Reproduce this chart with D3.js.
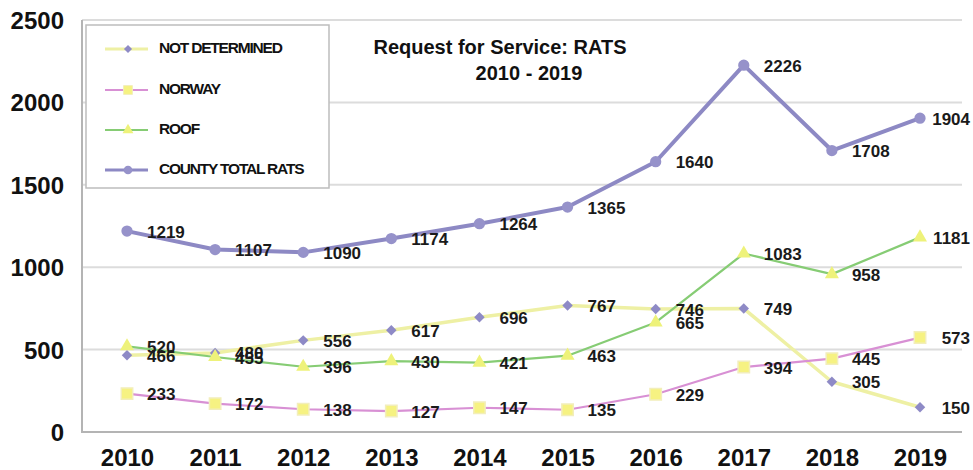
<!DOCTYPE html>
<html>
<head>
<meta charset="utf-8">
<script src="https://cdn.jsdelivr.net/npm/d3@7"></script>
<style>
  html, body { margin: 0; padding: 0; background: #fff; }
  svg { display: block; font-family: "Liberation Sans", Arial, sans-serif; }
</style>
</head>
<body>
<svg id="chart" width="973" height="470"></svg>
<script>
// Request for Service: RATS, 2010 - 2019
const years = ["2010", "2011", "2012", "2013", "2014", "2015", "2016", "2017", "2018", "2019"];
const notDetermined = [466, 480, 556, 617, 696, 767, 746, 749, 305, 150];
const norway = [233, 172, 138, 127, 147, 135, 229, 394, 445, 573];
const roof = [520, 455, 396, 430, 421, 463, 665, 1083, 958, 1181];
const countyTotal = [1219, 1107, 1090, 1174, 1264, 1365, 1640, 2226, 1708, 1904];
const yTicks = [0, 500, 1000, 1500, 2000, 2500];
const seriesNames = ["NOT DETERMINED", "NORWAY", "ROOF", "COUNTY TOTAL RATS"];

const W = 973, H = 470;
const plot = { left: 82, right: 962, top: 20, bottom: 432 };

const svg = d3.select("#chart");

const x = d3.scalePoint().domain(years).range([127, 920]);
const y = d3.scaleLinear().domain([0, 2500]).range([plot.bottom, plot.top]);

// Diamonds are drawn as squares turned by 45 degrees
const series = [
  { name: seriesNames[0], values: notDetermined, line: "#eef0a4", lineWidth: 3.5, marker: "square", rotate: 45, fill: "#8e8ac6", stroke: "none", size: 55 },
  { name: seriesNames[1], values: norway, line: "#d890d4", lineWidth: 2.2, marker: "square", rotate: 0, fill: "#f6f282", stroke: "#f2eebb", size: 130 },
  { name: seriesNames[2], values: roof, line: "#86cc74", lineWidth: 2.2, marker: "triangle", rotate: 0, fill: "#eef27a", stroke: "none", size: 85 },
  { name: seriesNames[3], values: countyTotal, line: "#8d89c4", lineWidth: 4, marker: "circle", rotate: 0, fill: "#9692ca", stroke: "none", size: 100 }
];

const symbolType = {
  square: d3.symbolSquare,
  triangle: d3.symbolTriangle,
  circle: d3.symbolCircle
};

// Gridlines
svg.append("g")
  .selectAll("line")
  .data(yTicks.filter(d => d > 0))
  .join("line")
  .attr("x1", plot.left)
  .attr("x2", plot.right)
  .attr("y1", d => y(d))
  .attr("y2", d => y(d))
  .attr("stroke", "#dcdcdc")
  .attr("stroke-width", 2);

// Plot frame (left and bottom)
svg.append("path")
  .attr("d", `M${plot.left},${plot.top}V${plot.bottom}H${plot.right}`)
  .attr("fill", "none")
  .attr("stroke", "#b4b4b4")
  .attr("stroke-width", 2);

// Y axis
const yAxis = d3.axisLeft(y).tickValues(yTicks).tickFormat(d3.format("d")).tickSize(0).tickPadding(0);
const yG = svg.append("g").attr("transform", "translate(64,0)").call(yAxis);
yG.select(".domain").remove();
yG.selectAll("text")
  .attr("font-size", 24)
  .attr("font-weight", "bold")
  .attr("fill", "#111")
  .attr("dy", "0.35em")
  .style("font-family", "'Liberation Sans', Arial, sans-serif");

// X axis
const xAxis = d3.axisBottom(x).tickSize(0).tickPadding(0);
const xG = svg.append("g").attr("transform", "translate(0,449)").call(xAxis);
xG.select(".domain").remove();
xG.selectAll("text")
  .attr("font-size", 24)
  .attr("font-weight", "bold")
  .attr("fill", "#111")
  .attr("dy", "0.72em")
  .style("font-family", "'Liberation Sans', Arial, sans-serif");

// Series lines and markers
const lineGen = d3.line()
  .x((d, i) => x(years[i]))
  .y(d => y(d));

series.forEach(s => {
  svg.append("path")
    .datum(s.values)
    .attr("d", lineGen)
    .attr("fill", "none")
    .attr("stroke", s.line)
    .attr("stroke-width", s.lineWidth)
    .attr("stroke-linejoin", "round");
});

series.forEach(s => {
  svg.append("g")
    .selectAll("path")
    .data(s.values)
    .join("path")
    .attr("transform", (d, i) => `translate(${x(years[i])},${y(d)}) rotate(${s.rotate})`)
    .attr("d", d3.symbol().type(symbolType[s.marker]).size(s.size))
    .attr("fill", s.fill)
    .attr("stroke", s.stroke)
    .attr("stroke-width", 1.5);
});

// Value labels
series.forEach(s => {
  svg.append("g")
    .selectAll("text")
    .data(s.values)
    .join("text")
    .attr("x", (d, i) => i === years.length - 1 ? 970 : x(years[i]) + 20)
    .attr("y", d => y(d) + 2)
    .attr("text-anchor", (d, i) => i === years.length - 1 ? "end" : "start")
    .attr("dominant-baseline", "middle")
    .attr("font-size", 17)
    .attr("font-weight", "bold")
    .attr("fill", "#1a1a1a")
    .text(d => d);
});

// Title
svg.append("text")
  .attr("x", 500).attr("y", 54)
  .attr("text-anchor", "middle")
  .attr("font-size", 20)
  .attr("font-weight", "bold")
  .attr("fill", "#111")
  .text("Request for Service: RATS");
svg.append("text")
  .attr("x", 529).attr("y", 80)
  .attr("text-anchor", "middle")
  .attr("font-size", 20)
  .attr("font-weight", "bold")
  .attr("fill", "#111")
  .text("2010 - 2019");

// Legend
const legend = svg.append("g");
legend.append("rect")
  .attr("x", 86).attr("y", 25)
  .attr("width", 243).attr("height", 163)
  .attr("fill", "#fff")
  .attr("stroke", "#bdbdbd")
  .attr("stroke-width", 1.5);

const legendRows = [49, 90, 130, 170];
series.forEach((s, i) => {
  const ly = legendRows[i];
  const g = legend.append("g").attr("transform", `translate(0,${ly})`);
  g.append("line")
    .attr("x1", 105).attr("x2", 148)
    .attr("stroke", s.line)
    .attr("stroke-width", Math.min(s.lineWidth, 3));
  g.append("path")
    .attr("transform", `translate(128,0) rotate(${s.rotate})`)
    .attr("d", d3.symbol().type(symbolType[s.marker]).size(s.size * 0.6))
    .attr("fill", s.fill)
    .attr("stroke", s.stroke);
  g.append("text")
    .attr("x", 159)
    .attr("dominant-baseline", "middle")
    .attr("font-size", 15.5)
    .attr("font-weight", "bold")
    .attr("letter-spacing", "-1.2px")
    .attr("fill", "#111")
    .text(s.name);
});
</script>
</body>
</html>
